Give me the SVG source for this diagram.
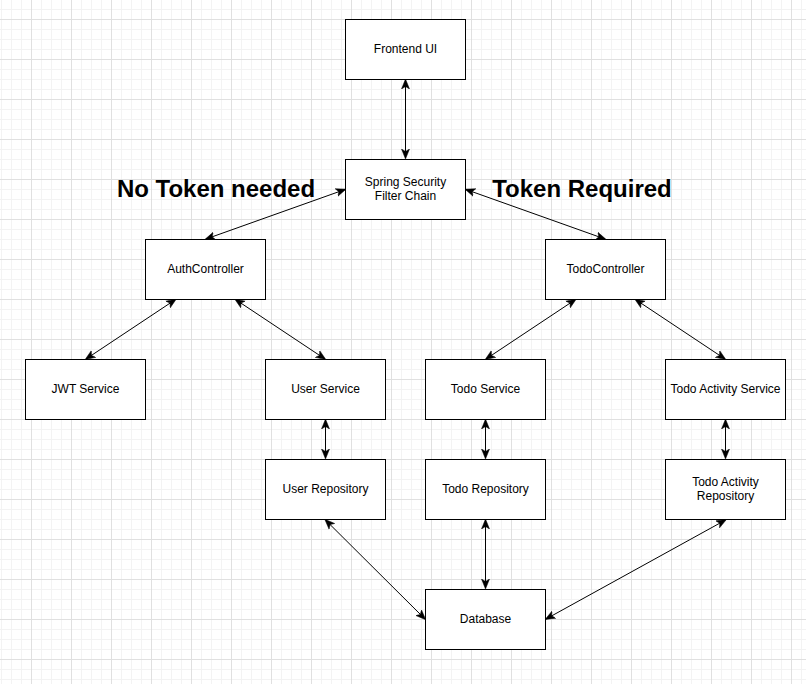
<svg xmlns="http://www.w3.org/2000/svg" width="806" height="684" viewBox="0 0 806 684">
<style>
.box{fill:#fff;stroke:#000;stroke-width:1}
.t{font-family:"Liberation Sans",Arial,sans-serif;font-size:12px;fill:#000;text-anchor:middle}
.big{font-family:"Liberation Sans",Arial,sans-serif;font-size:24px;font-weight:bold;fill:#000;text-anchor:middle}
.c{fill:none;stroke:#000;stroke-width:1;marker-start:url(#a);marker-end:url(#a)}
</style>
<defs>
<pattern id="g" x="31" y="19" width="40" height="40" patternUnits="userSpaceOnUse">
<path d="M10.5,0V40M20.5,0V40M30.5,0V40M0,10.5H40M0,20.5H40M0,30.5H40" stroke="#f3f3f3" stroke-width="1" fill="none"/>
<path d="M0.5,0V40M0,0.5H40" stroke="#e0e0e0" stroke-width="1" fill="none"/>
</pattern>
<marker id="a" viewBox="0 0 10 10" refX="9" refY="5" markerWidth="10" markerHeight="10" markerUnits="userSpaceOnUse" orient="auto-start-reverse">
<path d="M0,1 L10,5 L0,9 L2.5,5 Z" fill="#000" stroke="#000" stroke-width="0.5"/>
</marker>
</defs>
<rect width="806" height="684" fill="#fff"/>
<rect width="806" height="684" fill="url(#g)"/>
<g id="connectors">
<path class="c" d="M405.5,80 V158"/>
<path class="c" d="M345,189.5 L206,239"/>
<path class="c" d="M466,189.5 L605,239"/>
<path class="c" d="M175.5,299.5 L86,359"/>
<path class="c" d="M235.5,299.5 L325,359"/>
<path class="c" d="M575.5,299.5 L486,359"/>
<path class="c" d="M635.5,299.5 L725,359"/>
<path class="c" d="M325.5,420 V458"/>
<path class="c" d="M485.5,420 V458"/>
<path class="c" d="M725.5,420 V458"/>
<path class="c" d="M325.5,520 L425,619"/>
<path class="c" d="M485.5,520 V588"/>
<path class="c" d="M725.5,520 L546,619"/>
</g>
<g id="label-no-token"><text class="big" x="216" y="197">No Token needed</text></g>
<g id="label-token"><text class="big" x="582" y="197">Token Required</text></g>
<g id="frontend"><rect class="box" x="345.5" y="19.5" width="120" height="60"/><text class="t" x="405.5" y="52.5">Frontend UI</text></g>
<g id="security"><rect class="box" x="345.5" y="159.5" width="120" height="60"/><text class="t" x="405.5" y="186">Spring Security</text><text class="t" x="405.5" y="200">Filter Chain</text></g>
<g id="authcontroller"><rect class="box" x="145.5" y="239.5" width="120" height="60"/><text class="t" x="205.5" y="272.5">AuthController</text></g>
<g id="todocontroller"><rect class="box" x="545.5" y="239.5" width="120" height="60"/><text class="t" x="605.5" y="272.5">TodoController</text></g>
<g id="jwt"><rect class="box" x="25.5" y="359.5" width="120" height="60"/><text class="t" x="85.5" y="392.5">JWT Service</text></g>
<g id="userservice"><rect class="box" x="265.5" y="359.5" width="120" height="60"/><text class="t" x="325.5" y="392.5">User Service</text></g>
<g id="todoservice"><rect class="box" x="425.5" y="359.5" width="120" height="60"/><text class="t" x="485.5" y="392.5">Todo Service</text></g>
<g id="activityservice"><rect class="box" x="665.5" y="359.5" width="120" height="60"/><text class="t" x="725.5" y="392.5">Todo Activity Service</text></g>
<g id="userrepo"><rect class="box" x="265.5" y="459.5" width="120" height="60"/><text class="t" x="325.5" y="492.5">User Repository</text></g>
<g id="todorepo"><rect class="box" x="425.5" y="459.5" width="120" height="60"/><text class="t" x="485.5" y="492.5">Todo Repository</text></g>
<g id="activityrepo"><rect class="box" x="665.5" y="459.5" width="120" height="60"/><text class="t" x="725.5" y="486">Todo Activity</text><text class="t" x="725.5" y="500">Repository</text></g>
<g id="database"><rect class="box" x="425.5" y="589.5" width="120" height="60"/><text class="t" x="485.5" y="622.5">Database</text></g>
</svg>
